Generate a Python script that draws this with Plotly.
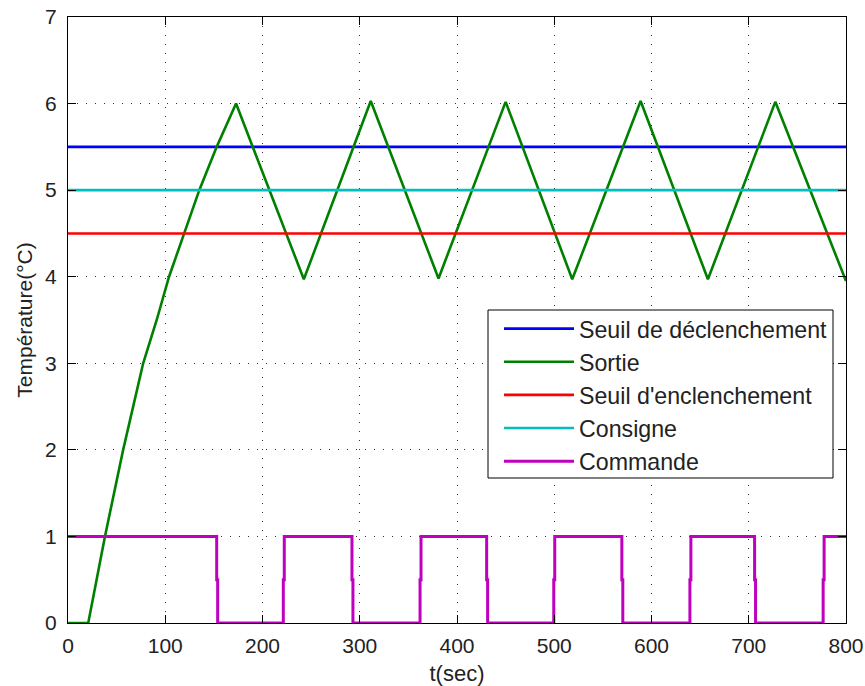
import plotly.graph_objects as go

# ---- data ----
t_max = 800
seuil_declenchement = 5.5
seuil_enclenchement = 4.5
consigne = 5.0

sortie_t = [0, 20.8, 38, 56.7, 77.3, 91.2, 103.9, 135, 152.9, 172.8, 242.5, 311.3, 381, 450, 518.5, 588.8, 658, 727.3, 800]
sortie_y = [0, 0, 1, 2, 3, 3.5, 4, 5, 5.5, 6.0, 3.97, 6.03, 3.98, 6.02, 3.97, 6.03, 3.97, 6.02, 3.95]

commande_start = 1
commande_switch_t = [152.9, 221.4, 292, 362, 430.5, 499.5, 569.5, 639.5, 706, 776.5]
commande_mid = 0.5
commande_delay = 1.0

x_ticks = [0, 100, 200, 300, 400, 500, 600, 700, 800]
y_ticks = [0, 1, 2, 3, 4, 5, 6, 7]

# build the command step signal from the switching times
cmd_t = [0]
cmd_y = [commande_start]
val = commande_start
for ts in commande_switch_t:
    new = 1 - val
    cmd_t += [ts, ts, ts + commande_delay, ts + commande_delay]
    cmd_y += [val, commande_mid, commande_mid, new]
    val = new
cmd_t.append(t_max)
cmd_y.append(val)

FONT = "Liberation Sans, Arial, sans-serif"
LW = 2.6

W, H = 865, 686
ML, MR, MT, MB = 68, 19, 17, 63
PW, PH = W - ML - MR, H - MT - MB


def px_x(p):
    return (p - ML) / PW


def px_y(p):
    return (H - MB - p) / PH


fig = go.Figure()
fig.add_trace(go.Scatter(x=[0, t_max], y=[seuil_declenchement] * 2, mode="lines",
                         name="Seuil de déclenchement", line=dict(color="#0000FF", width=LW)))
fig.add_trace(go.Scatter(x=sortie_t, y=sortie_y, mode="lines",
                         name="Sortie", line=dict(color="#008000", width=LW)))
fig.add_trace(go.Scatter(x=[0, t_max], y=[seuil_enclenchement] * 2, mode="lines",
                         name="Seuil d'enclenchement", line=dict(color="#FF0000", width=LW)))
fig.add_trace(go.Scatter(x=[0, t_max], y=[consigne] * 2, mode="lines",
                         name="Consigne", line=dict(color="#00BFBF", width=LW)))
fig.add_trace(go.Scatter(x=cmd_t, y=cmd_y, mode="lines",
                         name="Commande", line=dict(color="#BF00BF", width=3)))

axis_common = dict(
    showline=True, linecolor="black", linewidth=1, mirror="allticks",
    ticks="inside", ticklen=8, tickcolor="black", tickwidth=1,
    showgrid=True, gridcolor="#333333", gridwidth=1, griddash="1px,8px",
    zeroline=False, automargin=False,
    tickfont=dict(family=FONT, size=21, color="#222222"),
)

# legend frame
fig.add_shape(type="rect", xref="paper", yref="paper",
              x0=px_x(488), x1=px_x(833), y0=px_y(478), y1=px_y(310),
              line=dict(color="black", width=1), fillcolor="white", layer="above")

fig.update_layout(
    width=W, height=H,
    margin=dict(l=ML, r=MR, t=MT, b=MB, autoexpand=False),
    paper_bgcolor="white", plot_bgcolor="white",
    font=dict(family=FONT, color="#222222"),
    xaxis=dict(range=[0, t_max], tickvals=x_ticks, ticklabelstandoff=4,
               title=dict(text="t(sec)", font=dict(family=FONT, size=22), standoff=12),
               **axis_common),
    yaxis=dict(range=[0, 7], tickvals=y_ticks, ticklabelstandoff=6,
               title=dict(text="Température(°C)", font=dict(family=FONT, size=21), standoff=6),
               **axis_common),
    legend=dict(x=px_x(499), y=px_y(307), xanchor="left", yanchor="top",
                bgcolor="rgba(0,0,0,0)", borderwidth=0,
                font=dict(family=FONT, size=23.2, color="#222222"),
                itemwidth=70, tracegroupgap=0),
    showlegend=True,
)

fig.write_html("out.html")
